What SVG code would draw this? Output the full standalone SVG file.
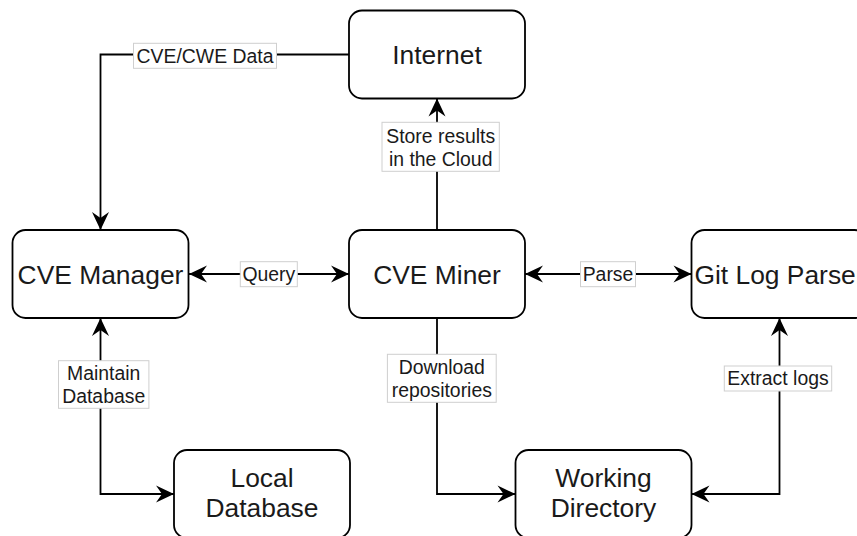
<svg xmlns="http://www.w3.org/2000/svg" width="857" height="536" viewBox="0 0 857 536">
<style>
.node rect{fill:#fff;stroke:#000;stroke-width:1.8}
.node text{font-family:"Liberation Sans",Arial,sans-serif;font-size:26.4px;fill:#1a1a1a;text-anchor:middle}
.edge{fill:none;stroke:#000;stroke-width:1.8}
.lbl rect{fill:#fff;stroke:#cfcfcf;stroke-width:1}
.lbl text{font-family:"Liberation Sans",Arial,sans-serif;font-size:19.4px;fill:#1a1a1a;text-anchor:middle}
</style>
<defs>
<marker id="arr" viewBox="-20 -10 22 20" refX="0" refY="0" markerWidth="22" markerHeight="20" markerUnits="userSpaceOnUse" orient="auto-start-reverse">
<path d="M0,0 L-18,-8.5 L-12,0 L-18,8.5 Z" fill="#000"/>
</marker>
</defs>
<rect width="857" height="536" fill="#fff"/>
<g id="connectors">
<path class="edge" d="M349,54.5 H100.5 V230" marker-end="url(#arr)"/>
<path class="edge" d="M437,230 V98.5" marker-end="url(#arr)"/>
<path class="edge" d="M189,274 H349" marker-start="url(#arr)" marker-end="url(#arr)"/>
<path class="edge" d="M525,274 H691.5" marker-start="url(#arr)" marker-end="url(#arr)"/>
<path class="edge" d="M100.5,318 V494 H174" marker-start="url(#arr)" marker-end="url(#arr)"/>
<path class="edge" d="M437,318 V494 H515.5" marker-end="url(#arr)"/>
<path class="edge" d="M779.5,318 V494 H691.5" marker-start="url(#arr)" marker-end="url(#arr)"/>
<g class="lbl">
<rect x="133.5" y="43.3" width="143" height="25"/>
<text x="205" y="63.3">CVE/CWE Data</text>
<rect x="382" y="122.3" width="117.3" height="49"/>
<text x="440.7" y="142.5">Store results</text>
<text x="440.7" y="166.3">in the Cloud</text>
<rect x="240.3" y="261.7" width="57" height="25"/>
<text x="268.8" y="281.3">Query</text>
<rect x="580.5" y="261.7" width="55" height="25"/>
<text x="608" y="281.3">Parse</text>
<rect x="58.5" y="360.7" width="90.4" height="47.6"/>
<text x="103.7" y="380">Maintain</text>
<text x="103.7" y="403.3">Database</text>
<rect x="387.4" y="354.3" width="108.8" height="48"/>
<text x="441.8" y="373.5">Download</text>
<text x="441.8" y="396.8">repositories</text>
<rect x="724.3" y="366" width="107.4" height="25"/>
<text x="778" y="385.4">Extract logs</text>
</g>
</g>
<g id="internet" class="node"><rect x="349" y="10.5" width="176" height="88" rx="13"/><text x="437" y="64">Internet</text></g>
<g id="cve-manager" class="node"><rect x="12.5" y="230" width="176" height="88" rx="13"/><text x="100.5" y="283.8">CVE Manager</text></g>
<g id="cve-miner" class="node"><rect x="349" y="230" width="176" height="88" rx="13"/><text x="437" y="283.8">CVE Miner</text></g>
<g id="git-log-parser" class="node"><rect x="691.5" y="230" width="176" height="88" rx="13"/><text x="779.5" y="283.8">Git Log Parser</text></g>
<g id="local-database" class="node"><rect x="174" y="450" width="176" height="88" rx="13"/><text x="262" y="487">Local</text><text x="262" y="516.5">Database</text></g>
<g id="working-directory" class="node"><rect x="515.5" y="450" width="176" height="88" rx="13"/><text x="603.5" y="487">Working</text><text x="603.5" y="516.5">Directory</text></g>
</svg>
